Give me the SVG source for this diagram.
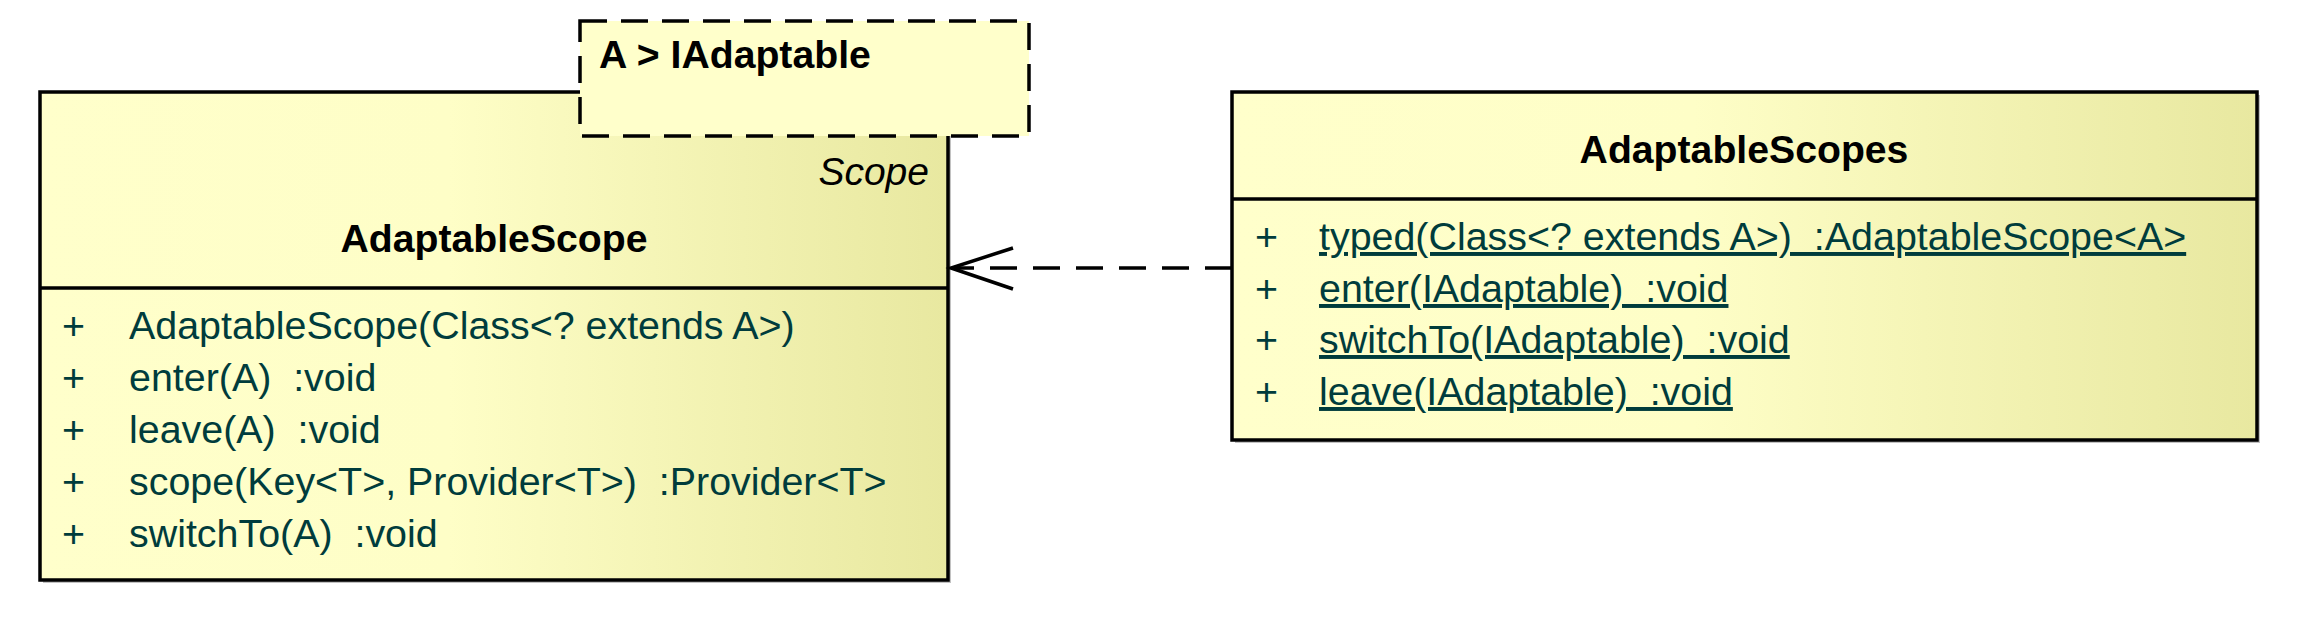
<svg xmlns="http://www.w3.org/2000/svg" width="2300" height="624" viewBox="0 0 2300 624">
  <defs>
    <linearGradient id="grad" x1="0" y1="0" x2="1" y2="0">
      <stop offset="0" stop-color="#FFFFCB"/>
      <stop offset="0.45" stop-color="#FEFEC7"/>
      <stop offset="1" stop-color="#E8E8A0"/>
    </linearGradient>
    <style>
      .box { fill: url(#grad); stroke: #000; stroke-width: 3.5; }
      .shadow { fill: #9A9A9A; opacity: 0.6; }
      .sep { stroke: #000; stroke-width: 3.5; }
      .tpl { fill: #FFFFCB; stroke: #000; stroke-width: 3.5; stroke-dasharray: 27 14; }
      .title { font-family: "Liberation Sans", Arial, sans-serif; font-size: 39.2px; font-weight: bold; fill: #000; }
      .stereo { font-family: "Liberation Sans", Arial, sans-serif; font-size: 39px; font-style: italic; fill: #000; }
      .mem { font-family: "Liberation Sans", Arial, sans-serif; font-size: 39.4px; fill: #003C3C; white-space: pre; }
      .ul { text-decoration: underline; }
      .conn { stroke: #000; stroke-width: 3.5; fill: none; }
      .dash { stroke-dasharray: 27 16; }
    </style>
  </defs>

  <g id="AdaptableScope">
    <rect class="shadow" x="43" y="95" width="908" height="488"/>
    <rect class="box" x="40" y="92" width="908" height="488"/>
    <line class="sep" x1="40" y1="288" x2="948" y2="288"/>
    <text class="stereo" x="929" y="185" text-anchor="end">Scope</text>
    <text class="title" x="494" y="252" text-anchor="middle">AdaptableScope</text>
    <text class="mem" x="62" y="339">+</text>
    <text class="mem" x="129" y="339">AdaptableScope(Class&lt;? extends A&gt;)</text>
    <text class="mem" x="62" y="391">+</text>
    <text class="mem" x="129" y="391">enter(A)  :void</text>
    <text class="mem" x="62" y="443">+</text>
    <text class="mem" x="129" y="443">leave(A)  :void</text>
    <text class="mem" x="62" y="495">+</text>
    <text class="mem" x="129" y="495">scope(Key&lt;T&gt;, Provider&lt;T&gt;)  :Provider&lt;T&gt;</text>
    <text class="mem" x="62" y="547">+</text>
    <text class="mem" x="129" y="547">switchTo(A)  :void</text>
  </g>

  <g id="AdaptableScope_template">
    <rect class="tpl" x="580" y="21" width="449" height="115"/>
    <text class="title" x="599" y="68">A &gt; IAdaptable</text>
  </g>

  <g id="AdaptableScopes">
    <rect class="shadow" x="1235" y="95" width="1025" height="348"/>
    <rect class="box" x="1232" y="92" width="1025" height="348"/>
    <line class="sep" x1="1232" y1="199" x2="2257" y2="199"/>
    <text class="title" x="1744" y="163" text-anchor="middle">AdaptableScopes</text>
    <text class="mem" x="1255" y="250">+</text>
    <text class="mem ul" x="1319" y="250">typed(Class&lt;? extends A&gt;)  :AdaptableScope&lt;A&gt;</text>
    <text class="mem" x="1255" y="302">+</text>
    <text class="mem ul" x="1319" y="302">enter(IAdaptable)  :void</text>
    <text class="mem" x="1255" y="353">+</text>
    <text class="mem ul" x="1319" y="353">switchTo(IAdaptable)  :void</text>
    <text class="mem" x="1255" y="405">+</text>
    <text class="mem ul" x="1319" y="405">leave(IAdaptable)  :void</text>
  </g>

  <g id="connectors">
    <line class="conn dash" x1="1232" y1="268" x2="952" y2="268"/>
    <polyline class="conn" points="1013,248 951,268 1013,289"/>
  </g>
</svg>
